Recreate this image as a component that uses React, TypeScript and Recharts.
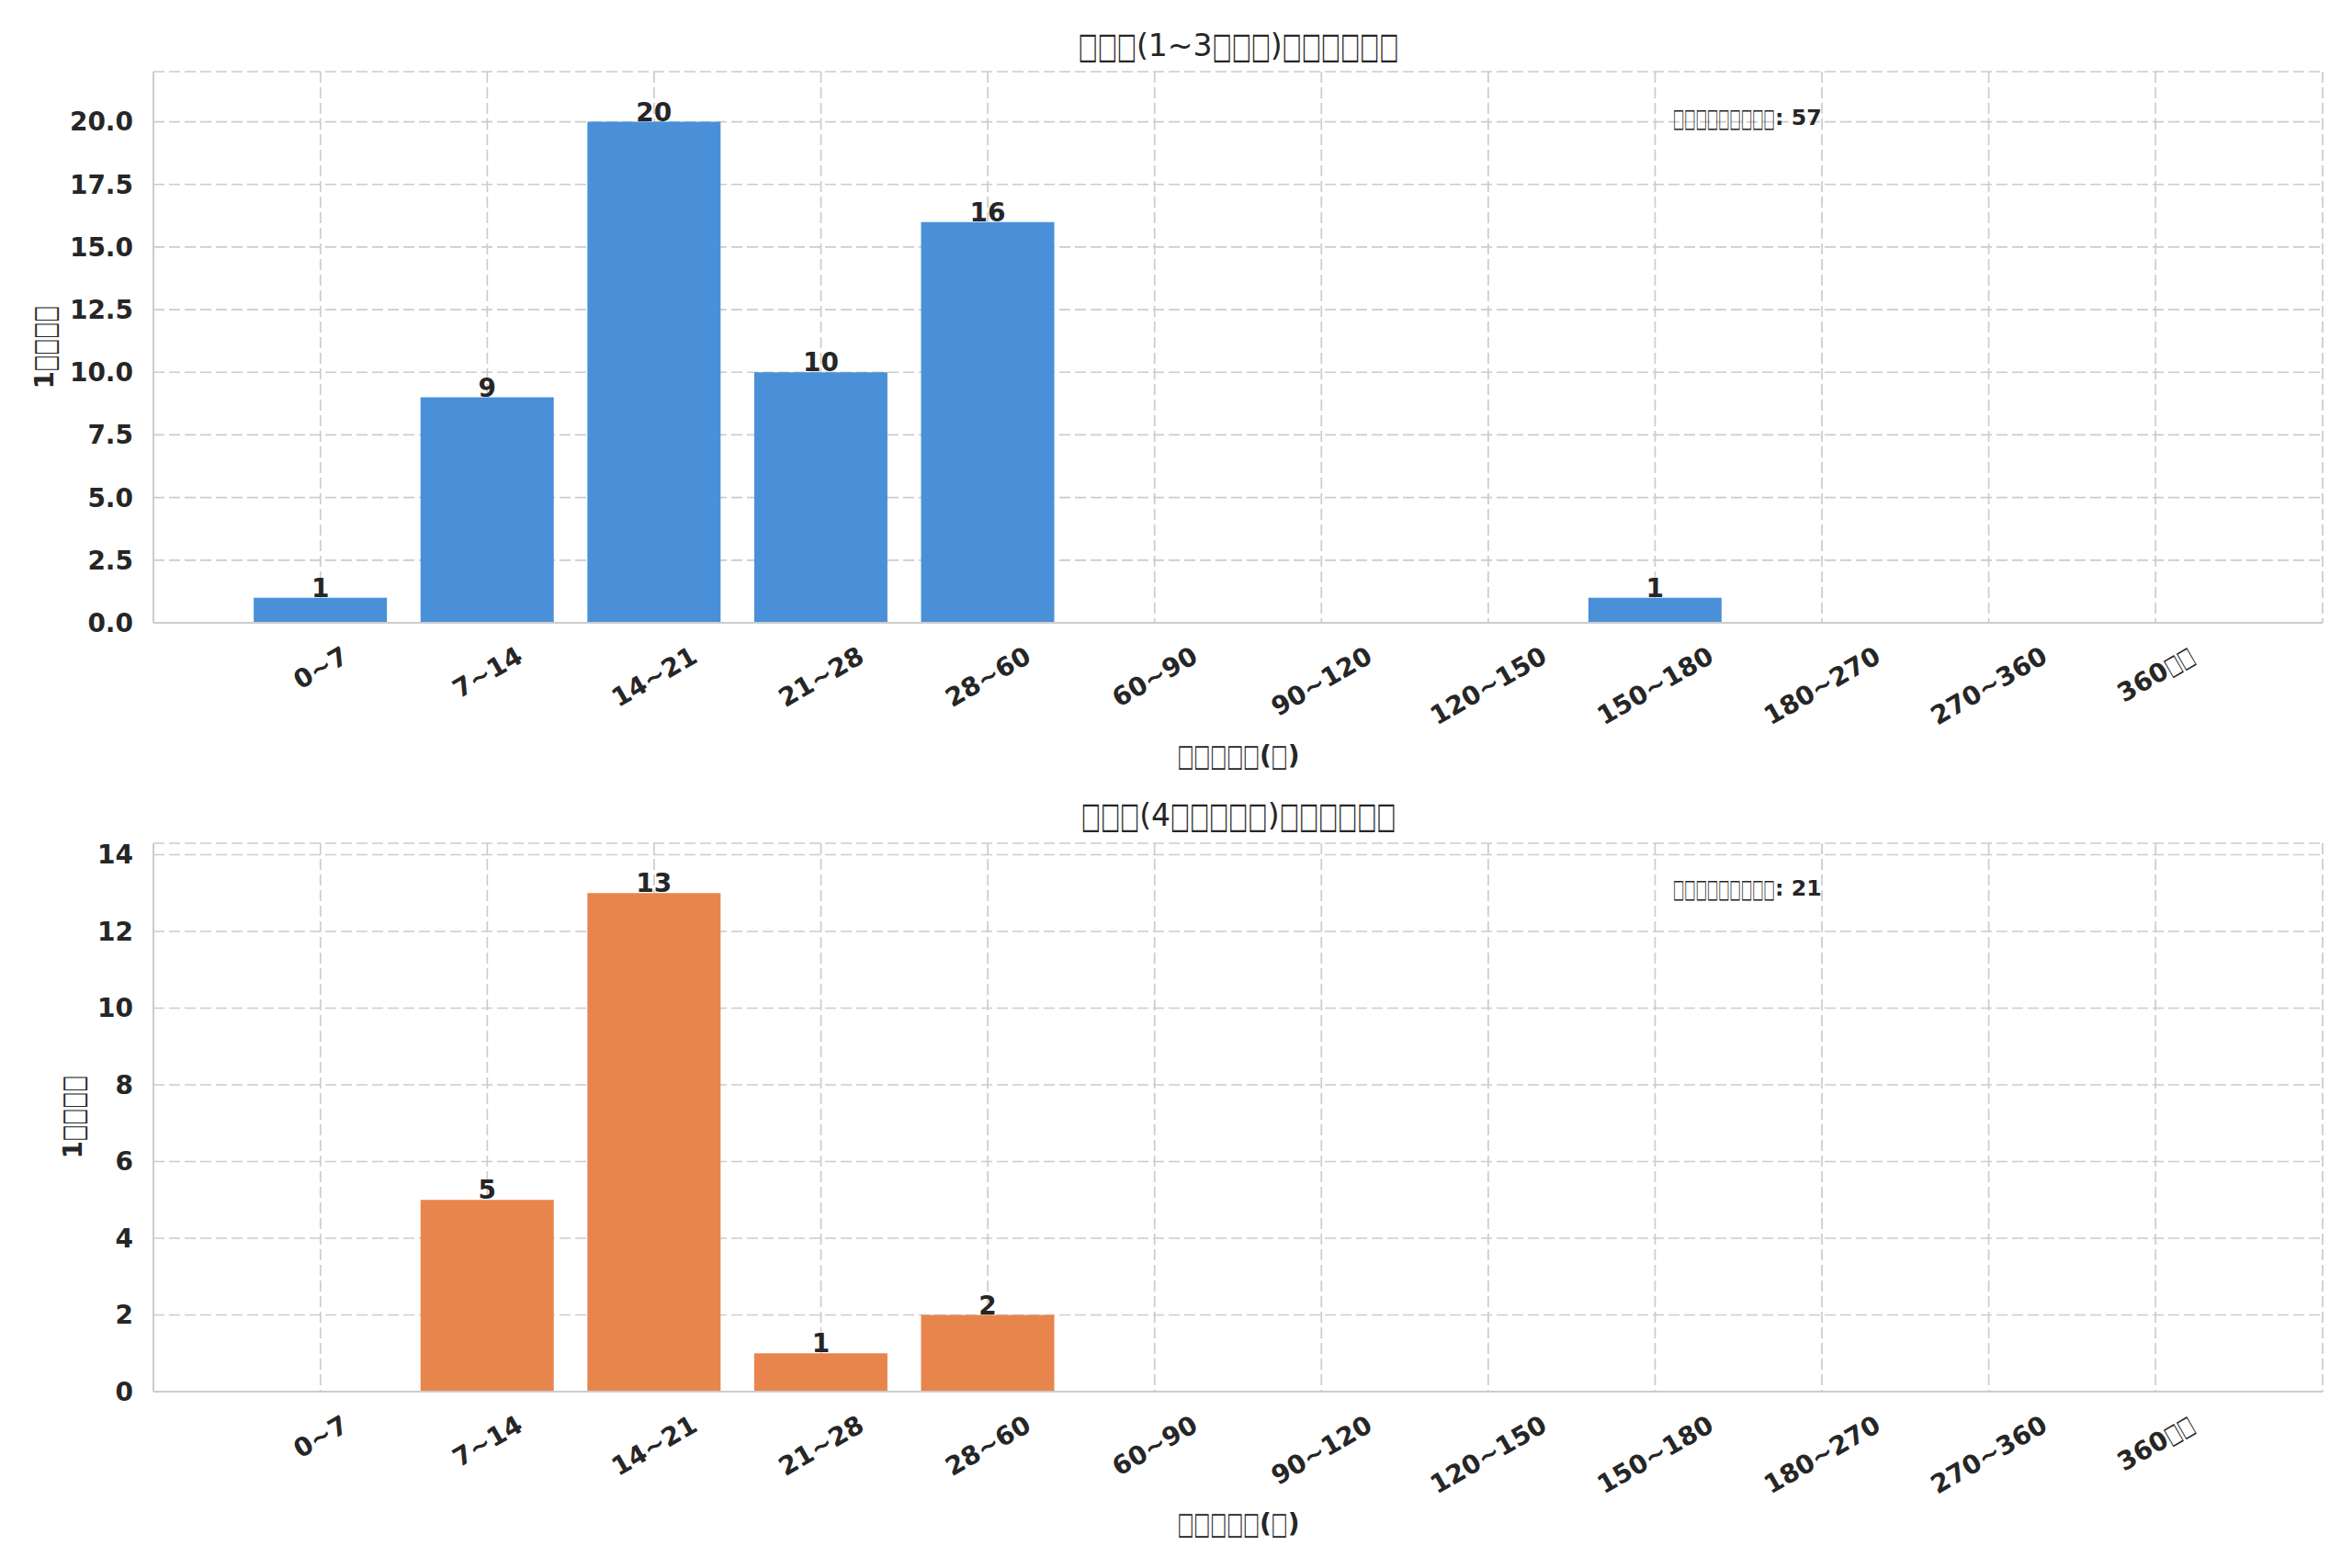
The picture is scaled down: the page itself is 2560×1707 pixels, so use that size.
import { Bar, BarChart, CartesianGrid, LabelList, XAxis, YAxis } from "recharts";

const categories = [
  "0~7",
  "7~14",
  "14~21",
  "21~28",
  "28~60",
  "60~90",
  "90~120",
  "120~150",
  "150~180",
  "180~270",
  "270~360",
  "360□□",
];

const lightValues = [1, 9, 20, 10, 16, 0, 0, 0, 1, 0, 0, 0];
const heavyValues = [0, 5, 13, 1, 2, 0, 0, 0, 0, 0, 0, 0];

const lightTicks = [0, 2.5, 5, 7.5, 10, 12.5, 15, 17.5, 20];
const heavyTicks = [0, 2, 4, 6, 8, 10, 12, 14];

const lightTitle = "□□□(1~3□□□)□□□□□□";
const heavyTitle = "□□□(4□□□□□)□□□□□□";
const xLabel = "□□□□□(□)";
const yLabel = "1□□□□";
const totalLabel = "□□□□□□□□□";

const FONT = '"DejaVu Sans", sans-serif';
const INK = "#262626";
const EDGE = "#cccccc";
const BOX = "□";

let ctx: CanvasRenderingContext2D | null = null;
function textWidth(s: string, font: string) {
  if (!ctx) ctx = document.createElement("canvas").getContext("2d");
  if (!ctx) return s.length * 17;
  ctx.font = font;
  return ctx.measureText(s).width;
}

// split text into runs of missing-glyph boxes and normal characters
function runs(s: string) {
  return s.split(/(□+)/).filter((p) => p.length > 0);
}

// rotated tick, centred under the tick like matplotlib rotation=30
function SlantTick(props: any) {
  const { x, y, payload } = props;
  const fs = 28;
  const font = `bold ${fs}px ${FONT}`;
  const parts = runs(String(payload.value));
  let w = 0;
  parts.forEach((p) => {
    w += p[0] === BOX ? p.length * 0.58 * fs : textWidth(p, font);
  });
  const boxH = w * 0.5 + fs * 0.866;
  const cy = y + 21 + boxH / 2;
  return (
    <text
      x={x}
      y={cy}
      textAnchor="middle"
      dominantBaseline="central"
      transform={`rotate(-30, ${x}, ${cy})`}
      fontSize={fs}
      fontWeight="bold"
      fill={INK}
      fontFamily={FONT}
    >
      {parts.map((p, i) =>
        p[0] === BOX ? (
          <tspan
            key={i}
            textLength={p.length * 0.58 * fs}
            lengthAdjust="spacingAndGlyphs"
            fontWeight="normal"
          >
            {p}
          </tspan>
        ) : (
          <tspan key={i}>{p}</tspan>
        ),
      )}
    </text>
  );
}

interface PanelProps {
  values: number[];
  ticks: number[];
  decimals: number;
  color: string;
  height: number;
  margin: { top: number; right: number; bottom: number; left: number };
}

function Panel({ values, ticks, decimals, color, height, margin }: PanelProps) {
  const data = categories.map((c, i) => ({ bin: c, count: values[i] }));
  const top = Math.max(...values) * 1.1;
  return (
    <BarChart
      width={2560}
      height={height}
      data={data}
      margin={margin}
      barCategoryGap="10%"
      style={{ fontFamily: FONT }}
    >
      <CartesianGrid stroke={EDGE} strokeDasharray="12 5" strokeWidth={1.7} />
      <XAxis
        dataKey="bin"
        height={120}
        interval={0}
        padding={{ left: 91, right: 91 }}
        tickLine={false}
        tickSize={0}
        tickMargin={0}
        axisLine={{ stroke: EDGE, strokeWidth: 2 }}
        tick={<SlantTick />}
      />
      <XAxis
        xAxisId="top"
        dataKey="bin"
        orientation="top"
        height={0}
        tick={false}
        tickLine={false}
        axisLine={{ stroke: EDGE, strokeWidth: 2 }}
      />
      <YAxis
        width={120}
        domain={[0, top]}
        ticks={ticks}
        interval={0}
        tickFormatter={(v: number) => v.toFixed(decimals)}
        tickLine={false}
        tickSize={0}
        tickMargin={22}
        axisLine={{ stroke: EDGE, strokeWidth: 2 }}
        tick={{ fontSize: 28, fontWeight: "bold", fill: INK, fontFamily: FONT }}
      />
      <YAxis
        yAxisId="right"
        orientation="right"
        width={0}
        tick={false}
        tickLine={false}
        axisLine={{ stroke: EDGE, strokeWidth: 2 }}
      />
      <Bar dataKey="count" fill={color} isAnimationActive={false}>
        <LabelList
          dataKey="count"
          position="top"
          offset={1}
          formatter={(v: any) => (Number(v) > 0 ? v : "")}
          style={{ fontSize: 28, fontWeight: "bold", fill: INK, fontFamily: FONT }}
        />
      </Bar>
    </BarChart>
  );
}

function Caption({
  text,
  x,
  y,
  size,
  bold,
  rotate,
  adv = 0.64,
  align = "center",
}: {
  text: string;
  x: number;
  y: number;
  size: number;
  bold?: boolean;
  rotate?: boolean;
  adv?: number;
  align?: "center" | "left";
}) {
  const shift = align === "center" ? "translate(-50%, -50%)" : "translate(0, -50%)";
  const weight = bold ? "bold" : "normal";
  return (
    <div
      style={{
        position: "absolute",
        left: x,
        top: y,
        transform: rotate ? `${shift} rotate(-90deg)` : shift,
        fontFamily: FONT,
        fontSize: size,
        fontWeight: weight,
        color: INK,
        whiteSpace: "nowrap",
        lineHeight: 1,
      }}
    >
      {runs(text).map((p, i) => {
        if (p[0] !== BOX) return <span key={i}>{p}</span>;
        const natural = textWidth(p, `normal ${size}px ${FONT}`);
        const target = p.length * adv * size;
        const k = target / natural;
        return (
          <span
            key={i}
            style={{
              display: "inline-block",
              fontWeight: "normal",
              transform: `scale(${k}, 1.2)`,
              transformOrigin: "left center",
              marginRight: target - natural,
            }}
          >
            {p}
          </span>
        );
      })}
    </div>
  );
}

export default function App() {
  const lightTotal = lightValues.reduce((a, b) => a + b, 0);
  const heavyTotal = heavyValues.reduce((a, b) => a + b, 0);
  return (
    <div
      style={{
        position: "absolute",
        left: 0,
        top: 0,
        width: 2560,
        height: 1707,
        background: "#ffffff",
        overflow: "hidden",
      }}
    >
      <div style={{ position: "absolute", left: 0, top: 0 }}>
        <Panel
          values={lightValues}
          ticks={lightTicks}
          decimals={1}
          color="#4a90d9"
          height={860}
          margin={{ top: 78, right: 32, bottom: 62, left: 47 }}
        />
      </div>
      <div style={{ position: "absolute", left: 0, top: 860 }}>
        <Panel
          values={heavyValues}
          ticks={heavyTicks}
          decimals={0}
          color="#e8854c"
          height={847}
          margin={{ top: 58, right: 32, bottom: 72, left: 47 }}
        />
      </div>

      <Caption text={lightTitle} x={1348} y={49} size={33} />
      <Caption text={xLabel} x={1348} y={823} size={28} bold />
      <Caption text={yLabel} x={49} y={378} size={28} bold rotate />
      <Caption text={`${totalLabel}: ${lightTotal}`} x={1821} y={129} size={23.7} bold adv={0.52} align="left" />

      <Caption text={heavyTitle} x={1348} y={887} size={33} />
      <Caption text={xLabel} x={1348} y={1659} size={28} bold />
      <Caption text={yLabel} x={80} y={1216} size={28} bold rotate />
      <Caption text={`${totalLabel}: ${heavyTotal}`} x={1821} y={968} size={23.7} bold adv={0.52} align="left" />
    </div>
  );
}
